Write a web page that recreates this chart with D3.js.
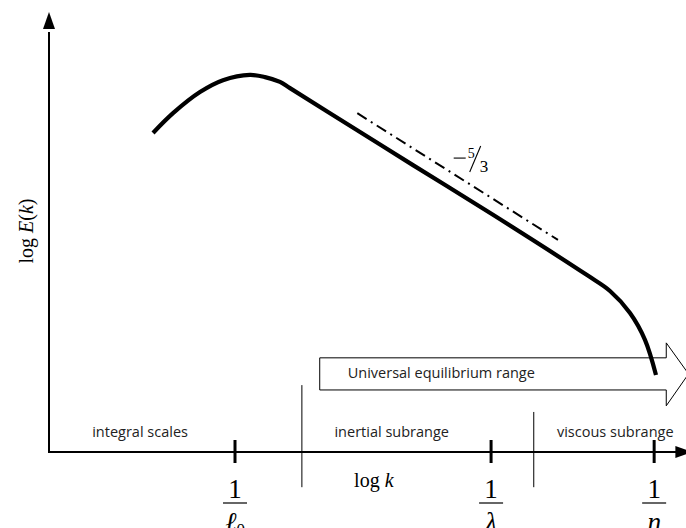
<!DOCTYPE html>
<html>
<head>
<meta charset="utf-8">
<script src="https://cdn.jsdelivr.net/npm/d3@7"></script>
<style>
  html, body { margin: 0; padding: 0; background: #fff; }
  svg { display: block; }
  .sans { font-family: "Open Sans", "Noto Sans", sans-serif; fill: #222; }
  .serif { font-family: "Liberation Serif", "DejaVu Serif", serif; fill: #000; }
</style>
</head>
<body>
<svg id="chart" width="686" height="528"></svg>
<script>
// ---- data (log k, log E in arbitrary units) ----
const logK = [1.633, 1.947, 2.370, 2.731, 3.155, 3.391, 3.626, 3.783, 4.411, 5.714, 6.970, 8.446, 8.807, 9.121, 9.356, 9.529];
const logE = [7.25, 7.70, 8.18, 8.45, 8.57, 8.52, 8.41, 8.27, 7.70, 6.52, 5.39, 4.02, 3.66, 3.16, 2.55, 1.75];

// -5/3 reference line (start, end)
const slopeK = [4.84, 7.99];
const slopeE = [7.70, 4.82];
const slopeLabelAt = [6.62, 6.68];

// tick positions and labels on log k axis
const tickK = [2.92, 6.94, 9.50];
const tickDenom = ["ℓ", "λ", "η"];
const tickDenomSub = ["0", "", ""];

// range separators and range labels
const sepK = [3.97, 7.61];
const sepTop = [1.52, 0.91];
const sepBottom = -0.80;
const rangeNames = ["integral scales", "inertial subrange", "viscous subrange"];
const rangeCenters = [1.43, 5.38, 8.89];
const rangeLabelE = 0.34;

// universal equilibrium arrow
const ueStart = 4.25, ueShaftEnd = 9.69, ueTip = 10.04;
const ueTop = 2.14, ueBottom = 1.41, ueHeadTop = 2.48, ueHeadBottom = 1.05;
const ueLabel = "Universal equilibrium range";

// ---- scales ----
const W = 686, H = 528;
const x = d3.scaleLinear().domain([0, 10]).range([49, 686]);
const y = d3.scaleLinear().domain([0, 10]).range([452, 12]);

const svg = d3.select("#chart");

// axes
svg.append("line").attr("x1", x(0)).attr("x2", x(0)).attr("y1", y(0) + 1).attr("y2", y(0) - 420)
  .attr("stroke", "#000").attr("stroke-width", 2);
svg.append("path").attr("d", `M${x(0)},${y(10)} L${x(0) - 6},${y(10) + 17} L${x(0) + 6},${y(10) + 17} Z`).attr("fill", "#000");
svg.append("line").attr("x1", x(0) - 1).attr("x2", W - 3).attr("y1", y(0)).attr("y2", y(0))
  .attr("stroke", "#000").attr("stroke-width", 2);
svg.append("path").attr("d", `M${x(10.1)},${y(0)} L${x(10.1) - 17},${y(0) - 6} L${x(10.1) - 17},${y(0) + 6} Z`).attr("fill", "#000");

// separators
svg.selectAll(".sep").data(sepK).join("line").attr("class", "sep")
  .attr("x1", d => x(d)).attr("x2", d => x(d))
  .attr("y1", (d, i) => y(sepTop[i])).attr("y2", y(sepBottom))
  .attr("stroke", "#000").attr("stroke-width", 1);

// range labels
svg.selectAll(".rl").data(rangeNames).join("text").attr("class", "rl sans")
  .attr("x", (d, i) => x(rangeCenters[i])).attr("y", y(rangeLabelE))
  .attr("text-anchor", "middle").attr("font-size", 14.5).text(d => d);

// ticks
svg.selectAll(".tk").data(tickK).join("line").attr("class", "tk")
  .attr("x1", d => x(d)).attr("x2", d => x(d))
  .attr("y1", y(0) - 12).attr("y2", y(0) + 11)
  .attr("stroke", "#000").attr("stroke-width", 3);

// tick fractions 1 / denom
const fr = svg.selectAll(".fr").data(tickK).join("g").attr("class", "fr")
  .attr("transform", d => `translate(${x(d)},0)`);
fr.append("text").attr("class", "serif").attr("text-anchor", "middle")
  .attr("y", 498).attr("font-size", 27).text("1");
fr.append("line").attr("x1", -12).attr("x2", 12).attr("y1", 503).attr("y2", 503)
  .attr("stroke", "#000").attr("stroke-width", 1.2);
const den = fr.append("text").attr("class", "serif").attr("text-anchor", "middle")
  .attr("y", 531).attr("font-size", 27).attr("font-style", "italic");
den.append("tspan").text((d, i) => tickDenom[i]);
den.append("tspan").attr("font-size", 17).attr("font-style", "normal").attr("dy", 4)
  .text((d, i) => tickDenomSub[i]);

// axis labels
svg.append("text").attr("class", "serif").attr("x", x(4.79)).attr("y", 487).attr("font-size", 20)
  .html('log <tspan font-style="italic">k</tspan>');
svg.append("text").attr("class", "serif").attr("transform", "translate(33,231) rotate(-90)")
  .attr("text-anchor", "middle").attr("font-size", 20)
  .html('log <tspan font-style="italic">E</tspan>(<tspan font-style="italic">k</tspan>)');

// universal equilibrium arrow
svg.append("path")
  .attr("d", `M${x(ueStart)},${y(ueTop)} L${x(ueShaftEnd)},${y(ueTop)} L${x(ueShaftEnd)},${y(ueHeadTop)} ` +
    `L${x(ueTip)},${y((ueTop + ueBottom) / 2)} L${x(ueShaftEnd)},${y(ueHeadBottom)} L${x(ueShaftEnd)},${y(ueBottom)} ` +
    `L${x(ueStart)},${y(ueBottom)} Z`)
  .attr("fill", "#fff").attr("stroke", "#000").attr("stroke-width", 1);
svg.append("text").attr("class", "sans").attr("x", x(ueStart) + 28).attr("y", y((ueTop + ueBottom) / 2) + 4)
  .attr("font-size", 14.5).text(ueLabel);

// -5/3 reference line
svg.append("line").attr("x1", x(slopeK[0])).attr("y1", y(slopeE[0]))
  .attr("x2", x(slopeK[1])).attr("y2", y(slopeE[1]))
  .attr("stroke", "#000").attr("stroke-width", 2).attr("stroke-dasharray", "11,5,2,5");

// slope label
const sl = svg.append("g").attr("transform", `translate(${x(slopeLabelAt[0])},${y(slopeLabelAt[1])})`);
sl.append("line").attr("x1", -17).attr("x2", -5).attr("y1", 0).attr("y2", 0).attr("stroke", "#000").attr("stroke-width", 1.1);
sl.append("text").attr("class", "serif").attr("x", -3).attr("y", 0).attr("font-size", 14).text("5");
sl.append("line").attr("x1", -1).attr("y1", 14).attr("x2", 10).attr("y2", -12).attr("stroke", "#000").attr("stroke-width", 1.1);
sl.append("text").attr("class", "serif").attr("x", 9).attr("y", 14).attr("font-size", 17).text("3");

// spectrum curve
const pts = logK.map((k, i) => [k, logE[i]]);
svg.append("path").datum(pts)
  .attr("d", d3.line().x(d => x(d[0])).y(d => y(d[1])).curve(d3.curveCatmullRom.alpha(0.5)))
  .attr("fill", "none").attr("stroke", "#000").attr("stroke-width", 4.2).attr("stroke-linecap", "butt");
</script>
</body>
</html>
